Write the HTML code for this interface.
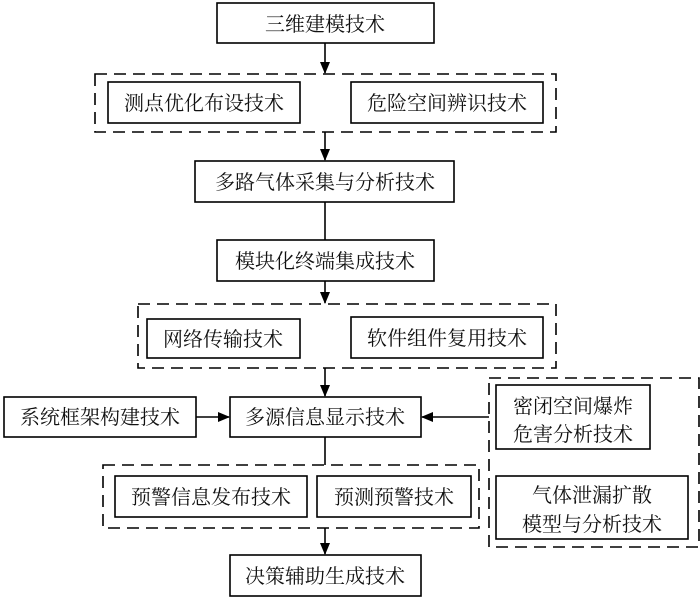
<!DOCTYPE html>
<html><head><meta charset="utf-8"><style>body{margin:0;background:#fff}svg{display:block}</style></head><body>
<svg width="700" height="598" xmlns="http://www.w3.org/2000/svg" font-family="Liberation Serif, Noto Serif CJK SC, serif" font-size="20" fill="#111">
<defs><marker id="a" markerWidth="10" markerHeight="10" refX="9" refY="5" orient="auto" markerUnits="userSpaceOnUse"><path d="M0,0 L10,5 L0,10 z" fill="#000"/></marker>
<marker id="b" markerWidth="12" markerHeight="12" refX="11" refY="6" orient="auto" markerUnits="userSpaceOnUse"><path d="M0,1 L12,6 L0,11 z" fill="#000"/></marker></defs>
<g stroke="#000" stroke-width="1.6" fill="none">
<rect x="217" y="3" width="217" height="40"/>
<rect x="95" y="74" width="461" height="58" stroke-dasharray="12,7"/>
<rect x="108" y="82" width="192" height="41"/>
<rect x="351" y="82" width="192" height="41"/>
<rect x="195" y="161" width="259" height="41"/>
<rect x="217" y="240" width="217" height="41"/>
<rect x="138" y="304" width="418" height="64" stroke-dasharray="12,7"/>
<rect x="147" y="319" width="153" height="39"/>
<rect x="351" y="317" width="192" height="41"/>
<rect x="230" y="397" width="191" height="40"/>
<rect x="4" y="397" width="192" height="40"/>
<rect x="489" y="378" width="210" height="169" stroke-dasharray="12,7"/>
<rect x="496" y="385" width="154" height="64"/>
<rect x="496" y="476" width="192" height="63"/>
<rect x="103" y="465" width="376" height="63" stroke-dasharray="12,7"/>
<rect x="115" y="476" width="192" height="41"/>
<rect x="317" y="476" width="154" height="41"/>
<rect x="230" y="555" width="191" height="41"/>
<line x1="325" y1="43" x2="325" y2="73" marker-end="url(#b)"/>
<line x1="325" y1="132" x2="325" y2="160" marker-end="url(#b)"/>
<line x1="325" y1="202" x2="325" y2="240"/>
<line x1="325" y1="281" x2="325" y2="303" marker-end="url(#b)"/>
<line x1="325" y1="368" x2="325" y2="396" marker-end="url(#b)"/>
<line x1="196" y1="417" x2="229" y2="417" marker-end="url(#b)"/>
<line x1="489" y1="417" x2="422" y2="417" marker-end="url(#b)"/>
<line x1="325" y1="437" x2="325" y2="465"/>
<line x1="325" y1="528" x2="325" y2="554" marker-end="url(#b)"/>
</g>
<g text-anchor="middle">
<text x="325" y="31">三维建模技术</text>
<text x="204" y="110">测点优化布设技术</text>
<text x="447" y="110">危险空间辨识技术</text>
<text x="325" y="189">多路气体采集与分析技术</text>
<text x="325" y="268">模块化终端集成技术</text>
<text x="223" y="346">网络传输技术</text>
<text x="447" y="345">软件组件复用技术</text>
<text x="325" y="424">多源信息显示技术</text>
<text x="100" y="424">系统框架构建技术</text>
<text x="573" y="413">密闭空间爆炸</text>
<text x="573" y="441">危害分析技术</text>
<text x="592" y="502">气体泄漏扩散</text>
<text x="592" y="531">模型与分析技术</text>
<text x="211" y="504">预警信息发布技术</text>
<text x="394" y="504">预测预警技术</text>
<text x="325" y="583">决策辅助生成技术</text>
</g>
</svg>
</body></html>
